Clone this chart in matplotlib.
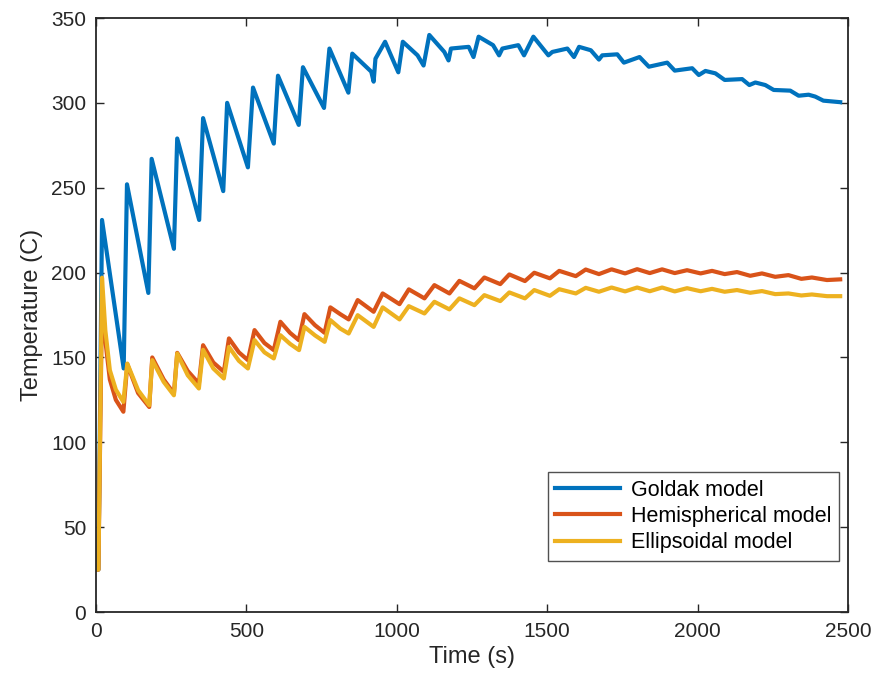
import matplotlib.pyplot as plt

plt.rcParams['font.family'] = ['Liberation Sans', 'DejaVu Sans']

# Goldak model (time s, temperature C)
t_goldak = [0, 8, 20, 92, 103, 174, 185, 259, 270, 343, 356, 423, 436, 505, 522,
            591, 605, 674, 688, 758, 776, 839, 852, 915, 923, 929, 961, 1005, 1020,
            1069, 1089, 1108, 1158, 1172, 1180, 1239, 1255, 1272, 1320, 1340, 1351,
            1404, 1423, 1454, 1504, 1517, 1567, 1589, 1606, 1645, 1672, 1683, 1733,
            1755, 1807, 1838, 1899, 1924, 1982, 2004, 2026, 2059, 2090, 2148, 2172,
            2192, 2225, 2253, 2308, 2336, 2369, 2391, 2418, 2474]
T_goldak = [25, 25, 231, 143.5, 252, 188, 267, 214, 279, 231, 291, 248, 300, 262, 309,
            276, 316, 287, 321, 297, 332, 306, 329, 318.4, 312.5, 326, 336, 318, 336,
            328, 322, 340, 330, 325, 332, 333, 327, 339, 334, 328, 332,
            334, 328, 339, 328, 330, 332, 327, 333, 331, 325.5, 328, 328.6,
            323.7, 327, 321.3, 323.7, 319, 320.4, 316.4, 318.8, 317.4, 313.5, 314, 310.5,
            312, 310.5, 307.6, 307.2, 304.2, 304.8, 303.7, 301.3, 300.4]

# Hemispherical model
t_hemi = [0, 8, 20, 31, 46, 66, 91, 104, 140, 177, 187, 225, 259, 270, 305, 342, 356,
          390, 425, 442, 475, 505, 527, 560, 591, 613, 645, 674, 693, 728, 760, 779,
          812, 840, 870, 923, 953, 1009, 1040, 1092, 1125, 1175, 1208, 1258, 1291,
          1344, 1374, 1426, 1457, 1509, 1540, 1595, 1628, 1672, 1714, 1759, 1799,
          1841, 1882, 1924, 1965, 2010, 2048, 2090, 2131, 2175, 2214, 2258, 2302,
          2345, 2380, 2430, 2474]
T_hemi = [25, 25, 185, 160, 137, 125, 118, 146, 129, 120.8, 150, 137, 128.7, 152.7, 142,
          134.6, 157.2, 147, 141.5, 161.2, 153, 148.4, 166.1, 158.5, 154.3, 171, 164.5,
          160.2, 175.5, 169, 164.5, 179.5, 175.5, 172.4, 183.8, 176.9, 187.7, 181.4,
          190.1, 184.8, 192.6, 187.7, 195.1, 190.7, 197.1, 193.2, 198.9, 195, 199.9,
          196.6, 201, 197.9, 201.8, 199.1, 201.9, 199.5, 202, 199.7, 201.9, 199.7,
          201.4, 199.5, 201, 199.1, 200.3, 198.1, 199.5, 197.5, 198.5, 196.3, 197.1,
          195.6, 196]

# Ellipsoidal model
t_ellip = [0, 8, 20, 31, 46, 66, 91, 104, 140, 177, 187, 225, 259, 270, 305, 342, 356,
           390, 425, 442, 475, 505, 527, 560, 591, 613, 645, 675, 693, 728, 760, 779,
           812, 840, 870, 923, 953, 1009, 1040, 1092, 1125, 1175, 1208, 1258, 1291,
           1344, 1374, 1426, 1457, 1509, 1540, 1595, 1628, 1672, 1714, 1759, 1799,
           1841, 1882, 1924, 1965, 2010, 2048, 2090, 2131, 2175, 2214, 2258, 2302,
           2345, 2380, 2430, 2474]
T_ellip = [25, 25, 197, 166, 142.5, 131, 123.8, 146.4, 130.7, 121.8, 148.4, 135.6, 127.7,
           152.3, 139.5, 131.7, 154.5, 143.5, 137.6, 156.2, 148, 143.5, 160.2, 153, 149.4,
           163.1, 158, 154.3, 168, 163, 159.2, 172, 167, 164.1, 174.9, 168, 179.5, 172.4,
           180.2, 175.9, 182.8, 178.3, 184.8, 180.8, 186.7, 183.2, 188.3, 184.8, 189.7,
           186.3, 190.2, 187.7, 191, 188.7, 191.2, 188.9, 191.2, 189, 191.2, 188.9,
           190.8, 189, 190.4, 188.7, 189.7, 188.1, 189.1, 187.3, 187.7, 186.5, 187.1,
           186.1, 186.1]

labels = ['Goldak model', 'Hemispherical model', 'Ellipsoidal model']
colors = ['#0072BD', '#D95319', '#EDB120']

fig = plt.figure(figsize=(8.75, 6.88), dpi=100)
ax = fig.add_axes([96 / 875, 76 / 688, 752 / 875, 594 / 688])

ax.plot(t_goldak, T_goldak, color=colors[0], lw=3, label=labels[0])
ax.plot(t_hemi, T_hemi, color=colors[1], lw=3, label=labels[1])
ax.plot(t_ellip, T_ellip, color=colors[2], lw=3, label=labels[2])

ax.set_xlim(0, 2500)
ax.set_ylim(0, 350)
ax.set_xticks(range(0, 2501, 500))
ax.set_yticks(range(0, 351, 50))

dark = '#262626'
for s in ax.spines.values():
    s.set_color(dark)
    s.set_linewidth(1.3)
ax.tick_params(direction='in', top=True, right=True, length=6, width=1,
               colors=dark, labelsize=15, pad=7)

ax.set_xlabel('Time (s)', fontsize=17, color=dark, labelpad=4)
ax.set_ylabel('Temperature (C)', fontsize=17, color=dark, labelpad=6)

leg = ax.legend(loc='upper left', bbox_to_anchor=(0.601, 0.2357),
                fontsize=15.5, frameon=True, fancybox=False, edgecolor=dark,
                handlelength=3.0, handletextpad=0.5, labelspacing=0.25,
                borderpad=0.35, borderaxespad=0)
leg.get_frame().set_linewidth(1.0)

fig.savefig('out.png', dpi=100)
